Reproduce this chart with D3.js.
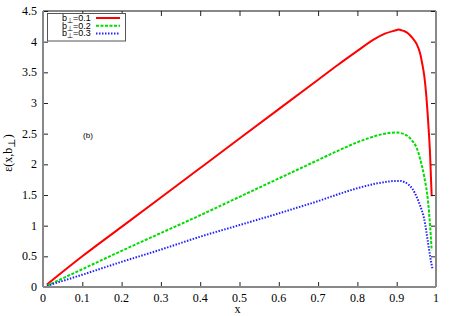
<!DOCTYPE html>
<html>
<head>
<meta charset="utf-8">
<script src="https://cdn.jsdelivr.net/npm/d3@7"></script>
<style>
  body { margin: 0; background: #fff; }
  svg { display: block; }
</style>
</head>
<body>
<div id="chart"></div>
<script>
// values
const xTicks = [0, 0.1, 0.2, 0.3, 0.4, 0.5, 0.6, 0.7, 0.8, 0.9, 1];
const yTicks = [0, 0.5, 1, 1.5, 2, 2.5, 3, 3.5, 4, 4.5];

const xsRed = [0.01, 0.1, 0.2, 0.3, 0.4, 0.5, 0.6, 0.7, 0.75, 0.8, 0.84, 0.87, 0.9, 0.905, 0.91, 0.92, 0.93, 0.94, 0.95, 0.96, 0.965, 0.97, 0.975, 0.98, 0.985, 0.989];
const red = [0.04, 0.5, 0.98, 1.46, 1.94, 2.42, 2.9, 3.38, 3.62, 3.85, 4.03, 4.13, 4.19, 4.2, 4.19, 4.17, 4.13, 4.06, 3.97, 3.8, 3.64, 3.45, 3.14, 2.7, 2.15, 1.48];

const xsGreen = [0.01, 0.1, 0.2, 0.3, 0.4, 0.5, 0.6, 0.7, 0.75, 0.8, 0.85, 0.88, 0.9, 0.91, 0.92, 0.93, 0.94, 0.95, 0.96, 0.97, 0.98, 0.985, 0.989];
const green = [0.02, 0.29, 0.59, 0.88, 1.17, 1.47, 1.77, 2.07, 2.22, 2.36, 2.47, 2.51, 2.52, 2.51, 2.49, 2.45, 2.38, 2.28, 2.08, 1.8, 1.38, 1.0, 0.6];

const xsBlue = [0.01, 0.1, 0.2, 0.3, 0.4, 0.5, 0.6, 0.65, 0.7, 0.75, 0.8, 0.85, 0.88, 0.9, 0.91, 0.92, 0.93, 0.94, 0.95, 0.96, 0.97, 0.98, 0.985, 0.991];
const blue = [0.02, 0.2, 0.41, 0.61, 0.82, 1.01, 1.2, 1.3, 1.4, 1.51, 1.61, 1.69, 1.72, 1.73, 1.73, 1.71, 1.67, 1.6, 1.48, 1.32, 1.11, 0.71, 0.5, 0.3];

const series = [
  { label: '0.1', xs: xsRed, ys: red, color: '#ff0000', dash: null, width: 2 },
  { label: '0.2', xs: xsGreen, ys: green, color: '#00dd00', dash: '3,1.5', width: 2 },
  { label: '0.3', xs: xsBlue, ys: blue, color: '#2222ff', dash: '1.5,1.5', width: 2 }
];

const W = 452, H = 316;
const margin = { left: 43, right: 436, top: 11, bottom: 287 };

const svg = d3.select('#chart')
  .append('svg')
  .attr('width', W)
  .attr('height', H);

const x = d3.scaleLinear().domain([0, 1]).range([margin.left, margin.right]);
const y = d3.scaleLinear().domain([0, 4.5]).range([margin.bottom, margin.top]);

const serif = "'Liberation Serif', 'DejaVu Serif', 'Times New Roman', serif";
const sans = "'Liberation Sans', Arial, sans-serif";

// curves
const line = d3.line()
  .x((d) => x(d[0]))
  .y((d) => y(d[1]))
  .curve(d3.curveMonotoneX);

series.forEach((s) => {
  svg.append('path')
    .datum(s.xs.map((v, i) => [v, s.ys[i]]))
    .attr('d', line)
    .attr('fill', 'none')
    .attr('stroke', s.color)
    .attr('stroke-width', s.width)
    .attr('stroke-dasharray', s.dash);
});

// axes (gnuplot style, ticks inside and mirrored)
const bottomAxis = svg.append('g')
  .attr('transform', `translate(0, ${margin.bottom})`)
  .call(d3.axisTop(x).tickValues(xTicks).tickSize(5).tickFormat(''));
const topAxis = svg.append('g')
  .attr('transform', `translate(0, ${margin.top})`)
  .call(d3.axisBottom(x).tickValues(xTicks).tickSize(5).tickFormat(''));
const leftAxis = svg.append('g')
  .attr('transform', `translate(${margin.left}, 0)`)
  .call(d3.axisRight(y).tickValues(yTicks).tickSize(5).tickFormat(''));
const rightAxis = svg.append('g')
  .attr('transform', `translate(${margin.right}, 0)`)
  .call(d3.axisLeft(y).tickValues(yTicks).tickSize(5).tickFormat(''));

[bottomAxis, topAxis, leftAxis, rightAxis].forEach((g) => {
  g.selectAll('.tick line').attr('stroke', '#222').attr('stroke-width', 1);
  g.select('.domain').remove();
});

// frame
svg.append('line').attr('x1', margin.left).attr('x2', margin.right).attr('y1', margin.top).attr('y2', margin.top)
  .attr('stroke', '#111').attr('stroke-width', 1);
svg.append('line').attr('x1', margin.left).attr('x2', margin.right).attr('y1', margin.bottom).attr('y2', margin.bottom)
  .attr('stroke', '#888').attr('stroke-width', 2);
svg.append('line').attr('x1', margin.left).attr('x2', margin.left).attr('y1', margin.top).attr('y2', margin.bottom)
  .attr('stroke', '#888').attr('stroke-width', 2);
svg.append('line').attr('x1', margin.right).attr('x2', margin.right).attr('y1', margin.top).attr('y2', margin.bottom)
  .attr('stroke', '#888').attr('stroke-width', 2);

// tick labels
svg.append('g').selectAll('text')
  .data(xTicks)
  .enter()
  .append('text')
  .attr('x', (d) => x(d))
  .attr('y', margin.bottom + 15)
  .attr('text-anchor', 'middle')
  .style('font-family', serif)
  .style('font-size', '12px')
  .text((d) => d);

svg.append('g').selectAll('text')
  .data(yTicks)
  .enter()
  .append('text')
  .attr('x', margin.left - 6)
  .attr('y', (d) => y(d) + 4)
  .attr('text-anchor', 'end')
  .style('font-family', serif)
  .style('font-size', '12px')
  .text((d) => d);

// axis titles
svg.append('text')
  .attr('x', (margin.left + margin.right) / 2 - 2)
  .attr('y', 313)
  .attr('text-anchor', 'middle')
  .style('font-family', serif)
  .style('font-size', '12px')
  .text('x');

const yl = svg.append('text')
  .attr('transform', `translate(12, ${(margin.top + margin.bottom) / 2 + 4}) rotate(-90)`)
  .attr('text-anchor', 'middle')
  .style('font-family', serif)
  .style('font-size', '12px');
yl.append('tspan').text('ε(x,b');
yl.append('tspan').attr('dy', 3).style('font-size', '10px').text('⊥');
yl.append('tspan').attr('dy', -3).text(')');

// panel tag
svg.append('text')
  .attr('x', 88)
  .attr('y', 138)
  .attr('text-anchor', 'middle')
  .style('font-family', sans)
  .style('font-size', '8px')
  .text('(b)');

// legend
const legend = svg.append('g');
legend.append('rect')
  .attr('x', 47.5).attr('y', 13.5)
  .attr('width', 78).attr('height', 27.5)
  .attr('fill', '#fff')
  .attr('stroke', '#555')
  .attr('stroke-width', 1);

series.forEach((s, i) => {
  const yy = 18 + i * 7.7;
  const t = legend.append('text')
    .attr('x', 62)
    .attr('y', yy + 3)
    .style('font-family', sans)
    .style('font-size', '9px');
  t.append('tspan').text('b');
  t.append('tspan').attr('dy', 2).style('font-size', '7px').text('⊥');
  t.append('tspan').attr('dy', -2).text('=' + s.label);
  legend.append('line')
    .attr('x1', 96).attr('x2', 120)
    .attr('y1', yy).attr('y2', yy)
    .attr('stroke', s.color)
    .attr('stroke-width', s.width)
    .attr('stroke-dasharray', s.dash);
});
</script>
</body>
</html>
